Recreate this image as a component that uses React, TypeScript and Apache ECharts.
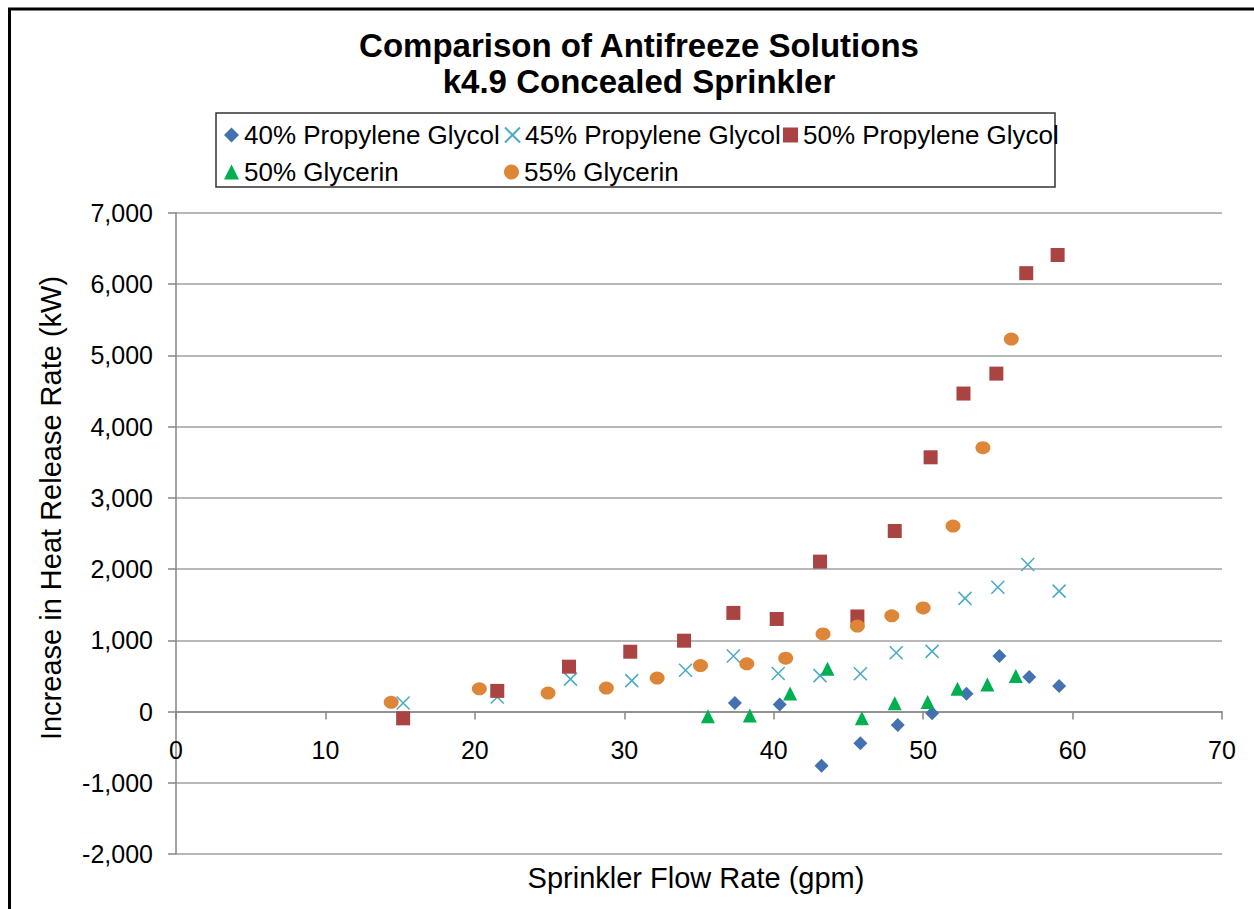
import React, { useEffect, useRef } from "react";
import * as echarts from "echarts";

const xMin = 0, xMax = 70, xStep = 10;
const yMin = -2000, yMax = 7000, yStep = 1000;

const seriesNames = [
  "40% Propylene Glycol",
  "45% Propylene Glycol",
  "50% Propylene Glycol",
  "50% Glycerin",
  "55% Glycerin",
];

const pg40X = [37.4, 40.4, 43.2, 45.8, 48.3, 50.6, 52.9, 55.1, 57.1, 59.1];
const pg40Y = [120, 100, -760, -445, -190, -25, 250, 780, 485, 360];

const pg45X = [15.2, 21.5, 26.4, 30.5, 34.1, 37.3, 40.3, 43.1, 45.8, 48.2, 50.6, 52.8, 55.0, 57.0, 59.1];
const pg45Y = [120, 205, 455, 435, 580, 780, 535, 505, 530, 825, 845, 1590, 1745, 2065, 1690];

const pg50X = [15.2, 21.5, 26.3, 30.4, 34.0, 37.3, 40.2, 43.1, 45.6, 48.1, 50.5, 52.7, 54.9, 56.9, 59.0];
const pg50Y = [-95, 290, 630, 840, 995, 1385, 1300, 2105, 1335, 2535, 3570, 4465, 4745, 6155, 6410];

const gly50X = [35.6, 38.4, 41.1, 43.6, 45.9, 48.1, 50.3, 52.3, 54.3, 56.2];
const gly50Y = [-65, -55, 255, 600, -95, 115, 135, 320, 380, 500];

const gly55X = [14.4, 20.3, 24.9, 28.8, 32.2, 35.1, 38.2, 40.8, 43.3, 45.6, 47.9, 50.0, 52.0, 54.0, 55.9];
const gly55Y = [130, 320, 260, 330, 470, 645, 670, 750, 1090, 1200, 1345, 1455, 2605, 3705, 5230];

const titleLines = ["Comparison of Antifreeze Solutions", "k4.9 Concealed Sprinkler"];
const xTitle = "Sprinkler Flow Rate (gpm)";
const yTitle = "Increase in Heat Release Rate (kW)";

const FONT = "'Liberation Sans', Arial, sans-serif";

const zip = (xs: number[], ys: number[]) => xs.map((x, i) => [x, ys[i]]);

export default function App() {
  const ref = useRef<HTMLDivElement>(null);
  useEffect(() => {
    if (!ref.current) return;
    const chart = echarts.init(ref.current, null, { renderer: "svg" });
    const crossPath = "path://M0,0L10,10M10,0L0,10";
    const legendPos = [
      { left: 224, top: 122 },
      { left: 504, top: 122 },
      { left: 783, top: 122 },
      { left: 224, top: 159 },
      { left: 504, top: 159 },
    ];
    const gridTop = 213;
    const gridBottom = 55;
    const gridH = 909 - gridTop - gridBottom;
    // place the x axis where y = 0, as the reference does
    const zeroOffset = -((0 - yMin) / (yMax - yMin)) * gridH;
    const option: any = {
      animation: false,
      backgroundColor: "#ffffff",
      textStyle: { fontFamily: FONT },
      title: {
        text: titleLines.join("\n"),
        left: 634,
        top: 22,
        textAlign: "center",
        textStyle: { fontFamily: FONT, fontSize: 33, fontWeight: "bold", color: "#000", lineHeight: 36 },
      },
      legend: seriesNames.map((n, i) => ({
        data: [n],
        left: legendPos[i].left,
        top: legendPos[i].top,
        padding: 0,
        itemWidth: 15,
        itemHeight: 15,
        selectedMode: false,
        textStyle: { fontFamily: FONT, fontSize: 26, color: "#000" },
      })),
      grid: { left: 176, right: 32, top: gridTop, bottom: gridBottom, containLabel: false },
      xAxis: {
        type: "value",
        position: "bottom",
        offset: zeroOffset,
        min: xMin,
        max: xMax,
        interval: xStep,
        axisLine: { onZero: false, lineStyle: { color: "#868686", width: 1.5 } },
        axisTick: { show: true, length: 8, lineStyle: { color: "#868686", width: 1.5 } },
        axisLabel: { color: "#000", fontSize: 25, fontFamily: FONT, margin: 26 },
        splitLine: { show: false },
      },
      yAxis: {
        type: "value",
        min: yMin,
        max: yMax,
        interval: yStep,
        axisLine: { show: true, onZero: false, lineStyle: { color: "#868686", width: 1.5 } },
        axisTick: { show: true, length: 8, lineStyle: { color: "#868686", width: 1.5 } },
        axisLabel: {
          color: "#000",
          fontSize: 25,
          fontFamily: FONT,
          margin: 23,
          formatter: (v: number) => v.toLocaleString("en-US"),
        },
        splitLine: { show: true, lineStyle: { color: "#a0a0a0", width: 1.5 } },
      },
      graphic: [
        {
          type: "rect",
          shape: { x: 9.5, y: 9, width: 1400, height: 1100 },
          style: { fill: "none", stroke: "#000", lineWidth: 3 },
          silent: true,
        },
        {
          type: "rect",
          shape: { x: 216, y: 113, width: 839, height: 74 },
          style: { fill: "none", stroke: "#333", lineWidth: 1.5 },
          silent: true,
        },
        {
          type: "text",
          x: 696,
          y: 878,
          style: {
            text: xTitle,
            fontFamily: FONT,
            fontSize: 29,
            fill: "#000",
            textAlign: "center",
            textVerticalAlign: "middle",
          },
        },
        {
          type: "text",
          x: 51,
          y: 508,
          rotation: Math.PI / 2,
          style: {
            text: yTitle,
            fontFamily: FONT,
            fontSize: 29,
            fill: "#000",
            textAlign: "center",
            textVerticalAlign: "middle",
          },
        },
      ],
      series: [
        {
          name: seriesNames[0],
          type: "scatter",
          symbol: "diamond",
          symbolSize: 14,
          itemStyle: { color: "#4472b0", opacity: 1 },
          data: zip(pg40X, pg40Y),
        },
        {
          name: seriesNames[1],
          type: "scatter",
          symbol: crossPath,
          symbolSize: 13,
          itemStyle: { color: "#4bacc6", borderColor: "#4bacc6", borderWidth: 1.6, opacity: 1 },
          data: zip(pg45X, pg45Y),
        },
        {
          name: seriesNames[2],
          type: "scatter",
          symbol: "rect",
          symbolSize: 14,
          itemStyle: { color: "#a94442", opacity: 1 },
          data: zip(pg50X, pg50Y),
        },
        {
          name: seriesNames[3],
          type: "scatter",
          symbol: "triangle",
          symbolSize: 14,
          itemStyle: { color: "#00b050", opacity: 1 },
          data: zip(gly50X, gly50Y),
        },
        {
          name: seriesNames[4],
          type: "scatter",
          symbol: "circle",
          symbolSize: [15, 13],
          itemStyle: { color: "#dd8637", opacity: 1 },
          data: zip(gly55X, gly55Y),
        },
      ],
    };
    chart.setOption(option);
    return () => chart.dispose();
  }, []);
  return (
    <div
      ref={ref}
      style={{ position: "fixed", left: 0, top: 0, width: 1254, height: 909 }}
    />
  );
}
